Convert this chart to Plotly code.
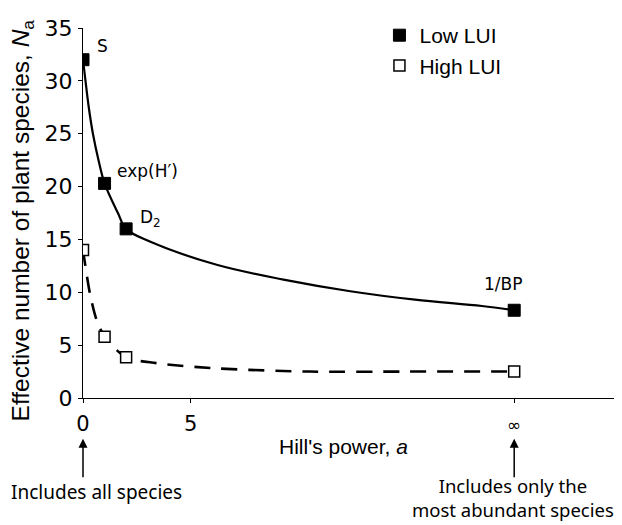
import plotly.graph_objects as go

# ---- data ----
hill_power = [0, 1, 2, 20]            # 20 stands for "infinity" on the axis
low_lui = [32.0, 20.3, 16.0, 8.3]
high_lui = [14.0, 5.8, 3.85, 2.5]
point_labels = ["S", "exp(H\u2032)", "D<sub>2</sub>", "1/BP"]

# fitted curves
low_curve_a = [0, 0.11, 0.26, 0.46, 0.72, 1.0, 1.62, 2.0, 3.1, 6.2, 9.3, 12.4, 15.4, 18.5, 20]
low_curve_y = [32.0, 30.1, 27.6, 25.0, 22.5, 20.3, 17.5, 16.0, 14.8, 12.6, 11.2, 10.1, 9.3, 8.7, 8.3]
high_curve_a = [0, 0.32, 0.63, 1.0, 2.0, 3.4, 6.2, 10.5, 15, 20]
high_curve_y = [14.0, 9.9, 7.4, 5.8, 3.85, 3.3, 2.8, 2.5, 2.5, 2.5]

x_tickvals = [0, 5, 20]
x_ticktext = ["0", "5", "<span style='font-size:17px'>\u221e</span>"]
y_tickvals = [0, 5, 10, 15, 20, 25, 30, 35]

ARIAL = "Liberation Sans, Arial, sans-serif"
DEJAVU = "DejaVu Sans, Verdana, sans-serif"
NOTE = "Noto Sans, sans-serif"

fig = go.Figure()

fig.add_trace(go.Scatter(x=low_curve_a, y=low_curve_y, mode="lines",
                         line=dict(color="black", width=2.2, shape="spline", smoothing=1.0),
                         showlegend=False, hoverinfo="skip"))
fig.add_trace(go.Scatter(x=high_curve_a, y=high_curve_y, mode="lines",
                         line=dict(color="black", width=2.6, dash="16px,11px",
                                   shape="spline", smoothing=0.8),
                         showlegend=False, hoverinfo="skip"))
fig.add_trace(go.Scatter(x=hill_power, y=low_lui, mode="markers", name="Low LUI",
                         legendgroup="a",
                         marker=dict(symbol="square", size=12, color="black",
                                     line=dict(color="black", width=1))))
fig.add_trace(go.Scatter(x=hill_power, y=high_lui, mode="markers", name="High LUI",
                         legendgroup="b",
                         marker=dict(symbol="square", size=11, color="white",
                                     line=dict(color="black", width=1.5))))

annotations = []
# point labels anchored to the Low LUI points
shifts = [(12, 14), (10, 12), (12, 10), (-11, 26)]
anchors = ["left", "left", "left", "center"]
for i, lab in enumerate(point_labels):
    dx, dy = shifts[i]
    annotations.append(dict(x=hill_power[i], y=low_lui[i], xref="x", yref="y",
                            text=lab, showarrow=False, xanchor=anchors[i],
                            xshift=dx, yshift=dy,
                            font=dict(family=DEJAVU, size=17, color="black")))

# y-axis title
annotations.append(dict(x=0, y=0.48, xref="paper", yref="paper", xshift=-61,
                        text="Effective number of plant species, <i>N</i><sub>a</sub>",
                        textangle=-90, showarrow=False, xanchor="center", yanchor="middle",
                        font=dict(family=ARIAL, size=24.5, color="black")))
# x-axis title
annotations.append(dict(x=12.1, y=-0.13, xref="x", yref="paper",
                        text="Hill's power, <i>a</i>", showarrow=False,
                        xanchor="center", yanchor="middle",
                        font=dict(family=ARIAL, size=21, color="black")))
# arrows
for xa in [hill_power[0], hill_power[3]]:
    annotations.append(dict(x=xa, y=-0.11, xref="x", yref="paper", text="",
                            showarrow=True, ax=0, ay=40, arrowhead=2, arrowsize=1.2,
                            arrowwidth=1.5, arrowcolor="black"))
annotations.append(dict(x=hill_power[0], y=-0.254, xref="x", yref="paper", xshift=13,
                        text="Includes all species", showarrow=False,
                        xanchor="center", yanchor="middle",
                        font=dict(family=NOTE, size=19, color="black")))
annotations.append(dict(x=hill_power[3], y=-0.27, xref="x", yref="paper", xshift=-1,
                        text="Includes only the<br>most abundant species", showarrow=False,
                        xanchor="center", yanchor="middle",
                        font=dict(family=NOTE, size=18.5, color="black")))

fig.update_layout(
    width=614, height=517,
    margin=dict(l=75, r=0, t=20, b=127),
    paper_bgcolor="white", plot_bgcolor="white",
    showlegend=True,
    legend=dict(x=0.55, y=1.035, xanchor="left", yanchor="top",
                font=dict(family=ARIAL, size=21, color="black"),
                bgcolor="rgba(0,0,0,0)", traceorder="grouped", tracegroupgap=0,
                itemwidth=30),
    annotations=annotations,
    xaxis=dict(range=[0, 25], tickvals=x_tickvals, ticktext=x_ticktext,
               showgrid=False, zeroline=False, showline=True, linecolor="black",
               linewidth=1.3, ticks="outside", ticklen=4, tickcolor="black",
               ticklabelstandoff=3,
               tickfont=dict(family=DEJAVU, size=21, color="black")),
    yaxis=dict(range=[0, 35], tickvals=y_tickvals,
               showgrid=False, zeroline=False, showline=True, linecolor="black",
               linewidth=1.3, ticks="outside", ticklen=4, tickcolor="black",
               ticklabelstandoff=1,
               tickfont=dict(family=DEJAVU, size=22, color="black")),
)

fig.write_html("out.html")
